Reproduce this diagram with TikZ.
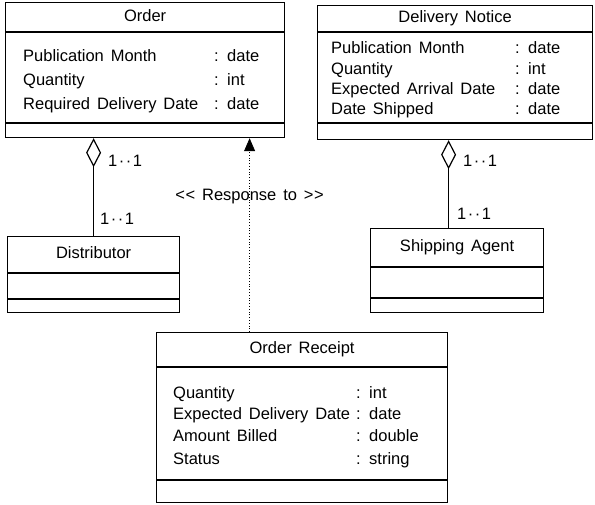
\documentclass[tikz,border=0pt]{standalone}
\usepackage{fontspec}
\setmainfont{Liberation Sans}[WordSpace=1.5]
\usepackage{tikz}
\usetikzlibrary{arrows.meta}
\usetikzlibrary{positioning}

\tikzset{
  classbox/.style={draw,line width=1.2pt,anchor=north west,inner sep=0pt},
  sep/.style={line width=1.2pt},
  title/.style={inner sep=0pt,text height=12pt,text depth=3pt,
    font=\fontsize{16.5}{19}\selectfont},
  attr/.style={anchor=base west,inner sep=0pt,
    font=\fontsize{16.5}{19}\selectfont},
  aggr/.style={line width=1.2pt,-{Diamond[open,length=29pt,width=15pt]}},
  resp/.style={line width=0.8pt,dotted,-{Triangle[length=13pt,width=11pt]}},
}

\begin{document}
\begin{tikzpicture}[x=1pt,y=-1pt]
  \useasboundingbox (0,0) rectangle (595,504);

  % Order
  \node[classbox,minimum width=279pt,minimum height=135pt] (order) at (5,2) {};
  \draw[sep] ([yshift=-30pt]order.north west) -- ([yshift=-30pt]order.north east);
  \draw[sep] ([yshift=-121pt]order.north west) -- ([yshift=-121pt]order.north east);
  \node[title] (ordername) at ([yshift=-15pt]order.north) {Order};
  \node[attr] (o1) at (23,61) {Publication Month};
  \node[attr] (o2) at (23,85) {Quantity};
  \node[attr] (o3) at (23,109) {Required Delivery Date};
  \node[attr] (o1t) at (214,61) {: date};
  \node[attr] (o2t) at (214,85) {: int};
  \node[attr] (o3t) at (214,109) {: date};

  % Delivery Notice
  \node[classbox,minimum width=275pt,minimum height=134pt] (notice) at (317,5) {};
  \draw[sep] ([yshift=-27pt]notice.north west) -- ([yshift=-27pt]notice.north east);
  \draw[sep] ([yshift=-118pt]notice.north west) -- ([yshift=-118pt]notice.north east);
  \node[title] (noticename) at ([yshift=-13pt]notice.north) {Delivery Notice};
  \node[attr] (n1) at (331,53) {Publication Month};
  \node[attr] (n2) at (331,74) {Quantity};
  \node[attr] (n3) at (331,94) {Expected Arrival Date};
  \node[attr] (n4) at (331,114) {Date Shipped};
  \node[attr] (n1t) at (515,53) {: date};
  \node[attr] (n2t) at (515,74) {: int};
  \node[attr] (n3t) at (515,94) {: date};
  \node[attr] (n4t) at (515,114) {: date};

  % Distributor
  \node[classbox,minimum width=172pt,minimum height=76pt] (dist) at (7,236) {};
  \draw[sep] ([yshift=-37pt]dist.north west) -- ([yshift=-37pt]dist.north east);
  \draw[sep] ([yshift=-63pt]dist.north west) -- ([yshift=-63pt]dist.north east);
  \node[title] (distname) at ([yshift=-18pt]dist.north) {Distributor};

  % Shipping Agent
  \node[classbox,minimum width=173pt,minimum height=84pt] (ship) at (370,228) {};
  \draw[sep] ([yshift=-39pt]ship.north west) -- ([yshift=-39pt]ship.north east);
  \draw[sep] ([yshift=-70pt]ship.north west) -- ([yshift=-70pt]ship.north east);
  \node[title] (shipname) at ([yshift=-19pt]ship.north) {Shipping Agent};

  % Order Receipt
  \node[classbox,minimum width=291pt,minimum height=170pt] (receipt) at (156,332) {};
  \draw[sep] ([yshift=-35pt]receipt.north west) -- ([yshift=-35pt]receipt.north east);
  \draw[sep] ([yshift=-148pt]receipt.north west) -- ([yshift=-148pt]receipt.north east);
  \node[title] (receiptname) at ([yshift=-17pt]receipt.north) {Order Receipt};
  \node[attr] (r1) at (173,398) {Quantity};
  \node[attr] (r2) at (173,419) {Expected Delivery Date};
  \node[attr] (r3) at (173,441) {Amount Billed};
  \node[attr] (r4) at (173,464) {Status};
  \node[attr] (r1t) at (356,398) {: int};
  \node[attr] (r2t) at (356,419) {: date};
  \node[attr] (r3t) at (356,441) {: double};
  \node[attr] (r4t) at (356,464) {: string};

  % aggregations
  \draw[aggr] (dist.north) -- (dist.north |- order.south);
  \draw[aggr] ([xshift=-8.5pt]ship.north) -- ([xshift=-8.5pt]ship.north |- notice.south);
  \node[attr] (m1) at (108,166) {1\kern1.5pt·\kern1.5pt·\kern1.5pt1};
  \node[attr] (m2) at (100,224) {1\kern1.5pt·\kern1.5pt·\kern1.5pt1};
  \node[attr] (m3) at (463,166) {1\kern1.5pt·\kern1.5pt·\kern1.5pt1};
  \node[attr] (m4) at (457,219) {1\kern1.5pt·\kern1.5pt·\kern1.5pt1};

  % dependency
  \draw[resp] ([xshift=-52.5pt]receipt.north) -- ([xshift=-52.5pt]receipt.north |- order.south)
    node[title,pos=0.70] (resplabel) {<\kern0.5pt< Response to >\kern0.5pt>};
\end{tikzpicture}
\end{document}
